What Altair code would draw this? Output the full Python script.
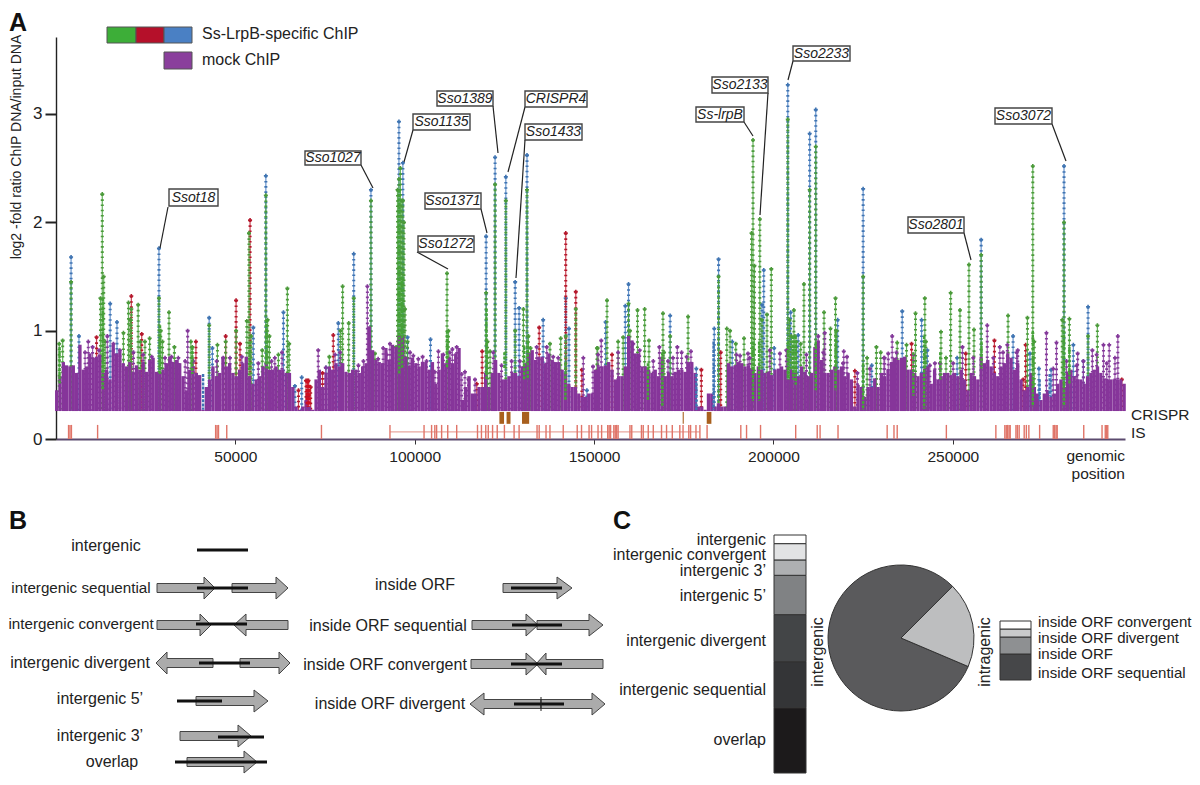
import altair as alt
import pandas as pd
import math

FONT = "Liberation Sans"

# ---------- panel A data (positions in kb, values log2 ratio) ----------
purple_start_kb = 0.19
purple_step_kb = 0.927
purple_val = [
 .45,.58,.71,.68,.67,.68,.61,.87,.64,.67,.79,.75,.76,.78,.61,.64,.55,.87,.79,.81,.70,.67,.71,.62,.68,.64,.71,.62,.73,.75,.62,.61,.64,.70,.76,.71,.73,.70,.58,.45,.64,.67,.61,.59,.27,.48,.55,.67,.58,.61,.76,.67,.70,.61,.58,.64,.70,.76,.58,.51,.55,.58,.67,.70,.64,.64,.67,.64,.64,.61,.61,.48,.30,.27,.30,.36,.30,.27,.55,.64,.48,.61,.67,
 .64,.70,.67,.70,.62,.61,.64,.64,.61,.67,.70,1.04,.82,.73,.71,.70,.84,.73,.87,.85,.95,.95,.76,.68,.75,.70,.67,.71,.71,.64,.71,.51,.64,.79,.70,.75,.70,.79,.84,.36,.48,.58,.42,.42,.48,.48,.61,.48,.61,.73,.61,.55,.55,.58,.61,.61,.58,.67,.70,.79,.82,.73,.76,.76,.70,.79,.73,.71,.71,.64,.61,.51,.48,.48,.42,.39,.39,.42,.42,.64,.67,.67,
 .68,.71,.64,.55,.58,.58,.67,.95,.91,.79,.79,.67,.67,.64,.61,.64,.58,.76,.58,.61,.58,.62,.64,.64,.62,.71,.71,.61,.30,.30,.27,.42,.42,.30,.33,.30,.30,.70,.67,.68,.71,.70,.67,.68,.64,.61,.67,.64,.61,.62,.59,.64,.65,.67,.64,.55,.64,.61,.58,.67,.62,.58,.61,.85,.91,.73,.61,.61,.64,.67,.64,.67,.58,.61,.55,.30,.50,.48,.39,.48,.48,
 .56,.48,.61,.58,.64,.71,.75,.73,.75,.76,.64,.64,.61,.58,.61,.65,.67,.51,.64,.55,.58,.61,.61,.59,.61,.58,.64,.55,.45,.61,.58,.55,.76,.70,.73,.67,.61,.58,.67,.70,.79,.75,.64,.70,.55,.45,.48,.61,.48,.42,.36,.42,.45,.39,.42,.51,.55,.48,.61,.64,.58,.55,.55,.51,.58,.61,.64,.67,.61,.56,.55,.55,.55,.55,.55,.51,
]

green_pos = [.9,1.86,4.2,12.9,12.4,13.3,13.7,18.8,20.2,20.7,21,22.9,23.5,24.8,26.1,28.7,29.2,29.7,31.5,33,37.6,38,42.7,45,47.3,50.2,53.2,53.8,54.4,57.5,58.5,59,59.5,62,64.5,65,76.2,79.9,79.3,81.6,83,87.8,88.9,94.8,95.2,95.6,96,96.4,96.7,97,97.3,98,109,109.4,119.9,120.3,121,122.4,125.4,128,130.3,131.3,131.7,132.3,137.7,140.7,142.1,144.9,150.8,151,153.6,156.7,158.1,159.6,160,162.1,164.1,165.3,169.2,169.5,171.2,176.2,184.7,187,187.9,189.5,191.8,194.3,193.9,194.7,196.2,196.8,198.2,199.4,204,204.5,205,205.7,206,206.4,207.6,208.5,210.1,211.8,214.1,215.9,217.3,217.6,225,226.1,228.7,229.9,234.5,237.1,239.6,242.2,242.5,246.7,248.1,249.4,252,254.5,255.9,257.9,265.4,270.8,272.3,272.7,281,280.5,282.5,290.3,287.7]
green_val = [.88,.91,1.45,2.26,1.3,1.5,.9,.98,1.26,1.1,1.2,1.24,.9,.9,.93,1.3,1.0,.9,1.17,.85,.9,.85,1.05,.87,.9,1.0,1.09,1.9,.95,.82,2.25,1.1,.95,.78,1.39,.88,.76,1.41,1.0,1.07,1.3,2.2,.79,.85,2.3,2.4,2.5,2.2,2.2,2.0,1.2,.9,1.53,1.0,1.35,.9,.81,2.35,2.2,1.0,1.2,2.3,.95,.84,.88,.93,.95,1.2,.84,.84,1.28,.9,.94,1.25,1.0,1.19,1.2,.91,1.16,.8,.95,1.13,1.5,1.02,1.0,.88,.93,2.76,1.9,1.6,2.03,1.1,1.15,1.57,2.95,1.1,.95,1.19,.95,.9,.88,1.43,2.3,2.7,1.17,1.02,1.3,1.0,1.5,.75,.85,.8,.89,.87,1.16,1.3,.9,.99,.75,1.35,1.19,1.61,1.01,1.7,1.14,1.12,2.52,.9,2.0,1.1,1.11,1.05,.95]

blue_pos = [4.2,6.4,15.1,17,28.7,42.7,43.6,55,58.5,63.4,66.6,68.5,75.3,78.7,83,87.8,95.6,96.7,98,104.4,119.9,122.4,125.4,128,129.1,131.3,135.8,142.1,143,148,153.2,158.7,159.6,171.2,178.5,183.5,184.7,188.5,197.3,196.8,200.2,204,204.8,206.9,210.1,211.8,217.9,225,227.4,235.9,241.3,242.9,251.2,257.9,266.8,271.5,274,277.4,281,283.6,286.4,287.7]
blue_val = [1.68,.95,1.25,1.08,1.76,1.12,.84,1.03,2.43,1.17,.49,.57,.66,1.07,1.71,2.3,2.93,2.55,.94,.92,1.87,2.6,2.42,1.45,1.21,2.62,1.1,1.3,1.02,.45,1.08,1.23,1.43,1.14,.65,1.02,1.66,.9,1.56,1.24,.84,3.27,1.17,.96,2.82,3.04,1.1,2.31,.68,1.18,1.1,.82,.75,1.84,.95,.79,.65,.64,2.52,.87,.72,1.22]

red_pos = [11.3,21,23.9,39,47.3,50.2,51.3,54.1,67.6,69.7,70.1,70.4,71,74.3,77.3,117.3,118.8,134.7,142.1,144.9,146.6,155,179.9,185.3,222.7,238.5,253.6,261.6,269.6,270.3,297.1]
red_val = [.94,1.32,.97,.9,.95,1.28,.88,2.02,.45,.54,.54,.54,.48,.61,.96,.51,.81,1.03,1.9,1.36,.64,.78,.64,.8,.63,.88,.79,.91,.55,.87,.55]

mock_pos = [9,36.7,73.1,75.2,86.8,91.2,93.1,99.6,102.2,106.6,108,110.5,111.7,114,147,149.7,152,166.5,168.2,173.2,174.4,177,190.7,192.9,201.8,212.5,214.3,219.6,220.5,223.4,230.8,232,233.1,245,252.7,259.6,263.1,265.2,268.1,276.1,278.9,284.8,288.9,292,293.6,296,
 8.1,10.2,12,14.3,16,17.8,21.6,24.3,26.7,30.4,32.2,34.1,36,38.3,44.8,46.6,48.5,51.8,56.4,60.1,61,63,77.8,79.2,84.3,85.7,89.8,92.2,98.7,101,103.3,105.6,109.8,113.1,115,116.8,121.9,124.2,127,129.3,134,136.8,138.6,140,151.1,156.7,160.9,162.7,170.6,172,175.8,189.7,193.4,199,203.6,209.2,213.9,219.4,226.9,231,234.3,239,243.6,246.4,250.1,255.7,261.3,264,267.8,278,281.7,284.5,286.4,290.1,292.9,295.2]
mock_val = [.9,1.0,.82,.66,1.41,.84,.88,.77,.76,.81,.78,.83,.85,.62,.75,.67,.91,.72,.85,.85,.8,.81,.77,.79,.79,.95,.98,.81,.76,.61,.75,.79,.95,.7,.85,1.05,.85,.87,.82,.98,.89,.79,.82,.87,.87,.95,
 .8,.85,.82,.95,.88,.82,.8,.78,.76,.75,.76,.75,.72,.72,.72,.75,.75,.76,.7,.72,.75,.8,.78,.8,.68,.72,.74,.78,.8,.74,.72,.62,.8,.6,.55,.55,.8,.68,.72,.72,.85,.85,.76,.75,.78,.8,.88,.82,.72,.75,.76,.78,.75,.82,.82,.78,.8,.7,.65,.75,.8,.78,.68,.7,.7,.75,.75,.8,.8,.65,.72,.68,.72,.78,.7,.75]

# dense stretches of points drawn over the mock signal
over_green_pos = [1,13,29,38,54,58.7,95.7,96.5,109,120,125,130.5,131.5,142,165,169,194.3,196,204,205.5,206.2,211.8,217.3,225,239,242,246.5,258,272.3,281,282.5]
over_green_low = [.5,.45,.6,.6,.65,.65,.6,.65,.65,.55,.65,.55,.55,.35,.35,.3,.35,.35,.55,.55,.5,.45,.45,.27,.4,.28,.55,.65,.3,.3,.5]
over_green_high = [.85,1.3,1.05,.85,.9,1.1,2.3,1.5,1.0,1.2,.8,.85,.9,.7,.7,.8,.9,.9,.9,.95,.95,.9,1.0,.7,.8,.95,.8,.9,1.0,1.0,.85]
over_blue_pos = [41,178.5,183.3,274.2,277]
over_blue_low = [.27,.27,.27,.35,.4]
over_blue_high = [.6,.6,.9,.55,.6]
over_red_pos = [69.9,70.3,70.7]
over_red_low = [.3,.3,.3]
over_red_high = [.54,.54,.5]

is_pos = [3.5,3.9,4.3,11.6,44.5,44.9,45.3,47.6,74,93.1,102.6,104.7,105.6,106.1,107.5,109.2,111.7,117.5,118.6,119.8,120.5,121.7,123,125,127.7,129.1,134.1,134.7,136.6,137.7,141.4,145.3,146.5,148.6,149.3,151.1,152.1,153.8,154.2,154.6,155.5,155.9,156.3,156.7,160,160.5,163.2,163.7,165.1,166.5,168.8,170.2,171.8,173.9,174.8,176.4,176.9,178.4,179.5,181.5,190.9,192.5,196.4,206.2,212.2,213,218,231.7,233.6,234.5,248.2,262,264.5,264.9,265.3,265.7,266,267.6,268,268.5,269.9,270.5,271.2,274.2,278,278.4,278.8,279.1,286.5,291.6,292.5,292.9,293.2]
crispr_start = [123.6,125.6,129.9,174.7,181.4]
crispr_end = [124.9,126.7,131.9,175.0,182.7]

# ---------- labels ----------
gene_names = ["Ssot18","Sso1027","Sso1135","Sso1389","CRISPR4","Sso1433","Sso1371","Sso1272","Ss-lrpB","Sso2133","Sso2233","Sso3072","Sso2801"]
box_x0 = [169,305,413,437,525,525,425,418,696,712,793,995,908]
box_x1 = [218,361,470,493,587,582,481,474,744,768,850,1052,964]
box_y0 = [189,151,114,91,91,124,193,236,107,77,46,108,217]
box_y1 = [206,165,130,106,107,140,209,252,122,93,61,124,233]
lead_x0 = [168,361,413,493,525,525,481,417,744,768,793,1052,964]
lead_y0 = [207,165,130,106,107,140,209,252,122,93,61,124,233]
lead_x1 = [160,373,404,498,508,516,487,448,753,760,788,1066,971]
lead_y1 = [248,188,162,153,172,278,233,269,136,215,80,161,260]

# panel B
b_text = ["intergenic","intergenic 5\u2019","intergenic 3\u2019","overlap","intergenic divergent",
          "inside ORF","inside ORF sequential","inside ORF convergent","inside ORF divergent"]
b_text_x = [106,100,100,112,80,415,388,385,390]
b_text_y = [546,699,736,762,663,585,626,665,704]
b_small = ["intergenic sequential","intergenic convergent"]
b_small_x = [81,81]
b_small_y = [588,624]
arrow_tail = [157,232,157,288,213,240,196,180,187,503,472,537,471,603,541,541]
arrow_tip  = [215,288,211,234,156,290,268,251,257,572,538,603,538,536,470,605]
arrow_head = [204,276,200,246,167,279,254,238,244,557,526,589,526,546,484,592]
arrow_y    = [588,588,625,625,663,663,701,736,762,588,625,625,664,664,704,704]
seg_x0 = [197,197,196,199,177,218,175,511,512,511,514]
seg_x1 = [248,248,247,250,222,264,267,562,562,562,564]
seg_y  = [550,588,624,663,701,737,762,588,625,664,704]

# panel C
c_names = ["overlap","intergenic sequential","intergenic divergent","intergenic 5\u2019","intergenic 3\u2019","intergenic convergent","intergenic"]
c_vals = [68,48,49,41,16,17,9]
c_cols = ["#1c1a1b","#343537","#434547","#808284","#aeb0b2","#e2e3e4","#ffffff"]
c_label_y = [740,690,641,596,571,555,540]
d_names = ["inside ORF sequential","inside ORF","inside ORF divergent","inside ORF convergent"]
d_vals = [26,17,8,8]
d_cols = ["#464749","#8e9092","#c9cacb","#ffffff"]
d_label_y = [673,654,638,622]
pie_names = ["intergenic","intragenic"]
pie_vals = [81.1,18.9]
pie_cols = ["#5a5a5c","#bdbebf"]

# ---------- scales ----------
W, H = 1184, 766
px_x = alt.Scale(domain=[0, 1200], range=[-8, 1192])
px_y = alt.Scale(domain=[0, 785], range=[-8, 777])
gx = alt.Scale(domain=[0, 298000], range=[48, 1117])
gy = alt.Scale(domain=[0, 3.71], range=[431, 29])

def X(f, s=px_x): return alt.X(f, scale=s, axis=None, title=None)
def Y(f, s=px_y): return alt.Y(f, scale=s, axis=None, title=None)

def stems(pos, val, col, dot):
    d = pd.DataFrame({"p": [v * 1000 for v in pos], "v": val, "b": 0.26})
    base = alt.Chart(d)
    enc = dict(x=X("p:Q", gx), y=Y("v:Q", gy), y2="b:Q")
    return [
        base.mark_rule(color=col, strokeWidth=1.2, opacity=0.85).encode(**enc),
        base.mark_rule(color=dot, strokeWidth=3, strokeDash=[1.6, 3.6]).encode(**enc),
        base.mark_point(shape="cross", filled=True, color=dot, size=16, opacity=1).encode(x=X("p:Q", gx), y=Y("v:Q", gy)),
    ]

def over(pos, low, high, col, width):
    d = pd.DataFrame({"p": [v * 1000 for v in pos], "a": low, "b": high})
    return alt.Chart(d).mark_rule(color=col, strokeWidth=width, strokeDash=[3, 1.2]).encode(
        x=X("p:Q", gx), y=Y("b:Q", gy), y2="a:Q")

layers = []
layers += stems(blue_pos, blue_val, "#4a80c4", "#3f74b2")
layers += stems(red_pos, red_val, "#c02033", "#b5182c")
layers += stems(green_pos, green_val, "#4aa53f", "#4b9a3a")
layers += stems(mock_pos, mock_val, "#8a3f9c", "#84399a")

purple_df = pd.DataFrame({"p": [(purple_start_kb + purple_step_kb * i) * 1000 for i in range(len(purple_val))],
                          "v": purple_val, "b": 0.258})
layers.append(alt.Chart(purple_df).mark_rule(color="#86359a", strokeWidth=3.3).encode(
    x=X("p:Q", gx), y=Y("v:Q", gy), y2="b:Q"))
layers.append(over(over_green_pos, over_green_low, over_green_high, "#45a338", 2.4))
layers.append(over(over_blue_pos, over_blue_low, over_blue_high, "#3f74b2", 2.4))
layers.append(over(over_red_pos, over_red_low, over_red_high, "#d01020", 2.4))

# IS line + ticks, CRISPR blocks
layers.append(alt.Chart(pd.DataFrame({"a": [93100], "b": [179500], "v": [0.065]})).mark_rule(color="#e8a79f", strokeWidth=1.2).encode(
    x=X("a:Q", gx), x2="b:Q", y=Y("v:Q", gy)))
layers.append(alt.Chart(pd.DataFrame({"p": [v * 1000 for v in is_pos], "a": 0.0, "b": 0.13})).mark_rule(color="#e07468", strokeWidth=1.4).encode(
    x=X("p:Q", gx), y=Y("b:Q", gy), y2="a:Q"))
layers.append(alt.Chart(pd.DataFrame({"a": [v * 1000 for v in crispr_start], "c": [v * 1000 for v in crispr_end], "t": 0.25, "b": 0.14}))
    .mark_rect(color="#a8601e").encode(x=X("a:Q", gx), x2="c:Q", y=Y("t:Q", gy), y2="b:Q"))

# axes
layers.append(alt.Chart(pd.DataFrame({"p": [0, 298000], "v": [0, 0]})).mark_line(opacity=0).encode(
    x=alt.X("p:Q", scale=gx, title=None, axis=alt.Axis(values=[50000, 100000, 150000, 200000, 250000], format="d", orient="bottom",
        offset=431 - H, grid=False, labelFont=FONT, labelFontSize=15.5, labelColor="#222", tickSize=5, tickColor="#333", labelPadding=5,
        domainColor="#5b4a6e", domainWidth=2)),
    y=alt.Y("v:Q", scale=gy, title=None, axis=alt.Axis(values=[0, 1, 2, 3], orient="left", offset=-48, grid=False,
        labelFont=FONT, labelFontSize=17, labelColor="#222", tickSize=11, tickWidth=2, tickColor="#222", labelPadding=3,
        domainColor="#222", domainWidth=1.4))))

# gene label leaders and boxes
lead = pd.DataFrame({"x0": lead_x0, "y0": lead_y0, "x1": lead_x1, "y1": lead_y1})
layers.append(alt.Chart(lead).mark_rule(color="#222", strokeWidth=1.2).encode(x=X("x0:Q"), y=Y("y0:Q"), x2="x1:Q", y2="y1:Q"))
box = pd.DataFrame({"x0": box_x0, "x1": box_x1, "y0": box_y0, "y1": box_y1, "t": gene_names,
                    "c": [(a + b) / 2 for a, b in zip(box_x0, box_x1)], "m": [(a + b) / 2 for a, b in zip(box_y0, box_y1)]})
layers.append(alt.Chart(box).mark_rect(fill="white", stroke="#444", strokeWidth=1.4).encode(x=X("x0:Q"), x2="x1:Q", y=Y("y0:Q"), y2="y1:Q"))
layers.append(alt.Chart(box).mark_text(font=FONT, fontStyle="italic", fontSize=14, color="#222").encode(x=X("c:Q"), y=Y("m:Q"), text="t:N"))

# legend swatches of A
sw = pd.DataFrame({"x0": [107, 136, 164, 164], "x1": [136, 164, 192, 192], "y0": [27, 27, 27, 52], "y1": [43, 43, 43, 69],
                   "k": ["g", "r", "b", "m"]})
layers.append(alt.Chart(sw).mark_rect(stroke="#555", strokeWidth=1).encode(
    x=X("x0:Q"), x2="x1:Q", y=Y("y0:Q"), y2="y1:Q",
    color=alt.Color("k:N", legend=None, scale=alt.Scale(domain=["g", "r", "b", "m"], range=["#3dae38", "#b5102a", "#4a80c4", "#8a3f9c"]))))

def texts(ts, xs, ys, size=15, align="center", angle=0, weight="normal", color="#222"):
    d = pd.DataFrame({"t": ts, "x": xs, "y": ys})
    return alt.Chart(d).mark_text(font=FONT, fontSize=size, align=align, baseline="middle", angle=angle,
                                  fontWeight=weight, color=color).encode(x=X("x:Q"), y=Y("y:Q"), text="t:N")

layers.append(texts(["Ss-LrpB-specific ChIP", "mock ChIP"], [202, 202], [34, 60], 16, "left"))
layers.append(texts(["log2 -fold ratio ChIP DNA/input DNA"], [17], [147], 14, "center", 270))
layers.append(texts(["A", "B", "C"], [9, 9, 613], [23, 521, 521], 25, "left", 0, "bold", "#111"))
layers.append(texts(["CRISPR", "IS"], [1131, 1131], [415, 433], 15.5, "left"))
layers.append(texts(["genomic", "position"], [1125, 1125], [456, 474], 15.5, "right"))

# panel B arrows
rows = []
for i, (t, p, h, y) in enumerate(zip(arrow_tail, arrow_tip, arrow_head, arrow_y)):
    body, head = 4.5, 11
    pts = [(t, y - body), (h, y - body), (h, y - head), (p, y), (h, y + head), (h, y + body), (t, y + body), (t, y - body)]
    rows += [{"id": i, "o": j, "x": a, "y": b} for j, (a, b) in enumerate(pts)]
layers.append(alt.Chart(pd.DataFrame(rows)).mark_line(fill="#ababab", stroke="#444", strokeWidth=1, interpolate="linear").encode(
    x=X("x:Q"), y=Y("y:Q"), detail="id:N", order="o:Q"))
seg = pd.DataFrame({"x0": seg_x0, "x1": seg_x1, "y": seg_y})
layers.append(alt.Chart(seg).mark_rule(color="#111", strokeWidth=3).encode(x=X("x0:Q"), x2="x1:Q", y=Y("y:Q")))
layers.append(alt.Chart(pd.DataFrame({"x": [541], "a": [697], "b": [711]})).mark_rule(color="#222", strokeWidth=1).encode(x=X("x:Q"), y=Y("a:Q"), y2="b:Q"))
layers.append(texts(b_text, b_text_x, b_text_y, 16))
layers.append(texts(b_small, b_small_x, b_small_y, 15.2))

# panel C stacks
def stack(vals, names, cols, bottom, top, x0, x1):
    tot = sum(vals)
    s = alt.Scale(domain=[0, tot], range=[bottom - 8, top - 8])
    a, rows = 0, []
    for v, n in zip(vals, names):
        rows.append({"a": a, "b": a + v, "n": n})
        a += v
    return alt.Chart(pd.DataFrame(rows)).mark_rect(stroke="#333", strokeWidth=1).encode(
        x=alt.value(x0 - 8), x2=alt.value(x1 - 8), y=Y("a:Q", s), y2="b:Q",
        color=alt.Color("n:N", legend=None, scale=alt.Scale(domain=names, range=cols)))

layers.append(stack(c_vals, c_names, c_cols, 773, 535, 774, 806))
layers.append(texts(c_names, [766] * 7, c_label_y, 16, "right"))
layers.append(stack(d_vals, d_names, d_cols, 680, 621, 1000, 1031))
layers.append(texts(d_names, [1038] * 4, d_label_y, 15, "left"))
layers.append(texts(["intergenic"], [818], [652], 16, "center", 270))
layers.append(texts(["intragenic"], [985], [652], 16, "center", 270))

# pie
start = math.radians(113)
pie = pd.DataFrame({"n": pie_names, "v": pie_vals, "o": [0, 1]})
layers.append(alt.Chart(pie).mark_arc(outerRadius=73, stroke="#333", strokeWidth=1).encode(
    x=alt.value(901 - 8), y=alt.value(638 - 8),
    theta=alt.Theta("v:Q", stack=True, scale=alt.Scale(domain=[0, 100], range=[start, start + 2 * math.pi])),
    order="o:Q",
    color=alt.Color("n:N", legend=None, scale=alt.Scale(domain=pie_names, range=pie_cols))))

chart = alt.layer(*layers).resolve_scale(x="independent", y="independent", color="independent", theta="independent").resolve_axis(x="independent", y="independent").properties(
    width=W, height=H, padding=0, background="white",
    autosize=alt.AutoSizeParams(type="none"),
).configure_view(stroke=None)

chart.save("out.html", embed_options={"renderer": "svg", "actions": False})
